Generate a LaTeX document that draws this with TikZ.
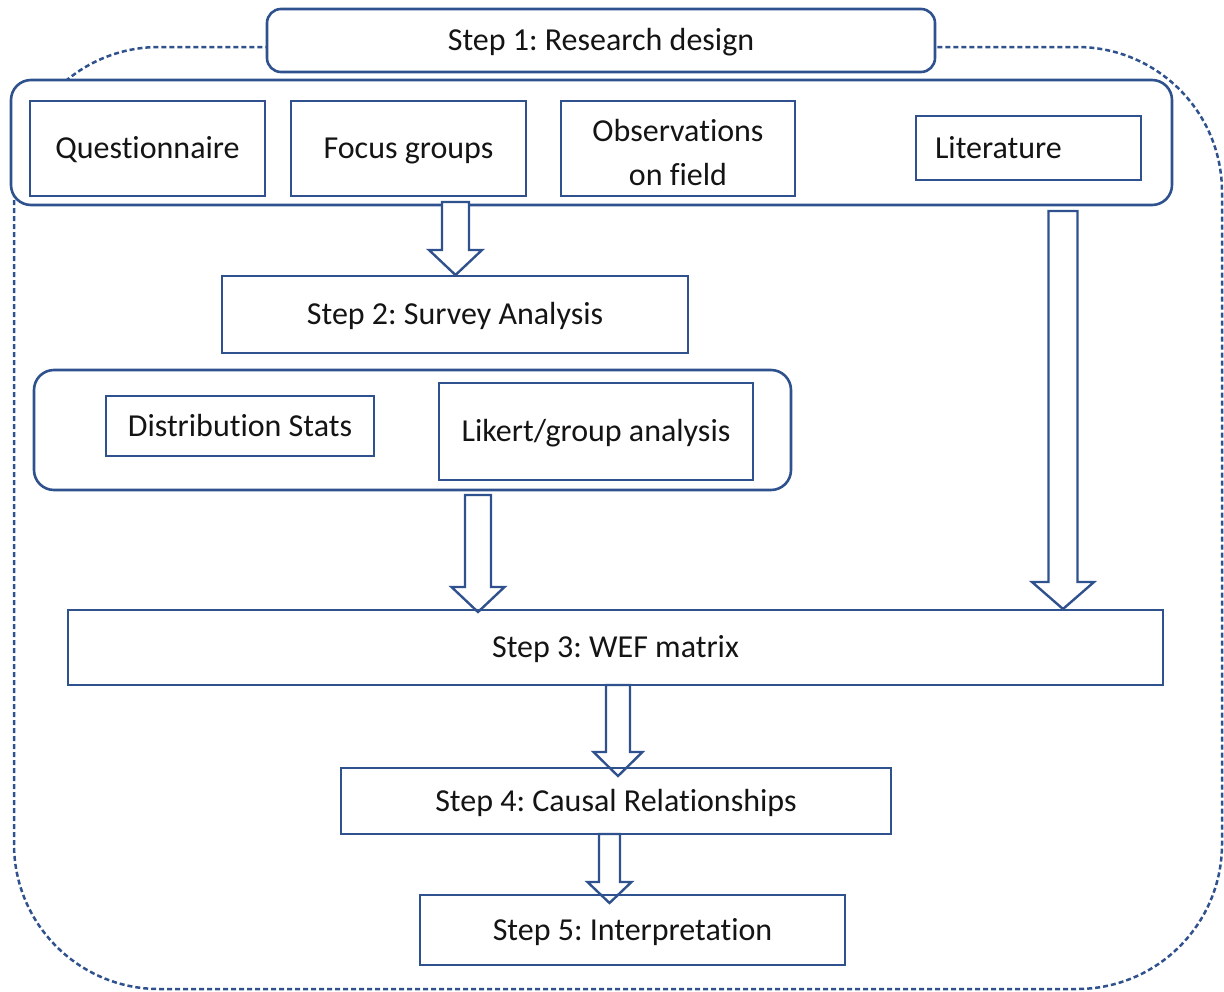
\documentclass[tikz,border=0pt]{standalone}
\usepackage{fontspec}
\setmainfont{Carlito}[Ligatures={NoCommon,NoRequired,NoContextual}]
\frenchspacing
\definecolor{wefblue}{RGB}{47,82,143}
\definecolor{txt}{RGB}{20,20,20}
\begin{document}
\begin{tikzpicture}[x=1pt,y=-1pt,
  box/.style={draw=wefblue, line width=2.6pt, inner sep=0pt, text=txt,
    font=\fontsize{32}{44}\selectfont\frenchspacing, align=center, text height=20pt, text depth=0pt},
  wbox/.style={box, fill=white},
  rbox/.style={draw=wefblue, line width=2.6pt, rounded corners=20pt, fill=white},
  arr/.style={draw=wefblue, line width=2.4pt, fill=white, line join=miter},
  outer/.style={draw=wefblue, line width=2.5pt, dash pattern=on 5pt off 3pt, rounded corners=145pt}
]
\useasboundingbox (0,0) rectangle (1224,991);
% outer dashed frame
\draw[outer] (14,47) rectangle (1222,989);
% step 1
\node[wbox, rounded corners=14pt, minimum width=668pt, minimum height=63pt] (s1) at (601,40.5) {Step 1: Research design};
% container 1
\draw[rbox] (11,80) rectangle (1172,205);
\node[wbox, minimum width=235pt, minimum height=95pt] (q) at (147.5,148.5) {Questionnaire};
\node[wbox, minimum width=235pt, minimum height=95pt] (fg) at (408.5,148.5) {Focus groups};
\node[wbox, minimum width=234pt, minimum height=95pt, text height=73pt, text depth=0pt] (obs) at (678,148.5) {Observations\\on field};
\node[wbox, minimum height=64pt, text width=187pt, inner xsep=19pt, align=left] (lit) at (1028.5,148) {Literature};
% container 2
\draw[rbox] (34,370) rectangle (791,490);
\node[wbox, minimum width=268pt, minimum height=60pt] (ds) at (240,426) {Distribution Stats};
\node[wbox, minimum width=314pt, minimum height=97pt] (lk) at (596,431.5) {Likert/group analysis};
% block arrows
\newcommand\blockarr[6]{%
  \draw[arr] ({#1-#2},#4) -- ({#1+#2},#4) -- ({#1+#2},#5) -- ({#1+#3},#5) -- (#1,#6)
    -- ({#1-#3},#5) -- ({#1-#2},#5) -- cycle;}
\blockarr{455.5}{13.5}{26.5}{202}{250}{275}
\blockarr{478}{13}{26.5}{495}{587}{612}
\blockarr{1063}{14.5}{31}{211}{582}{609}
\blockarr{618}{12}{24.5}{685}{752}{776}
\blockarr{609.5}{10.5}{22}{834}{882}{903}
% steps 2-5
\node[box, minimum width=466pt, minimum height=77pt] (s2) at (455,314.5) {Step 2: Survey Analysis};
\node[box, minimum width=1095pt, minimum height=75pt] (s3) at (615.5,647.5) {Step 3: WEF matrix};
\node[box, minimum width=550pt, minimum height=66pt] (s4) at (616,801) {Step 4: Causal Relationships};
\node[box, minimum width=425pt, minimum height=70pt] (s5) at (632.5,930) {Step 5: Interpretation};
\end{tikzpicture}
\end{document}
